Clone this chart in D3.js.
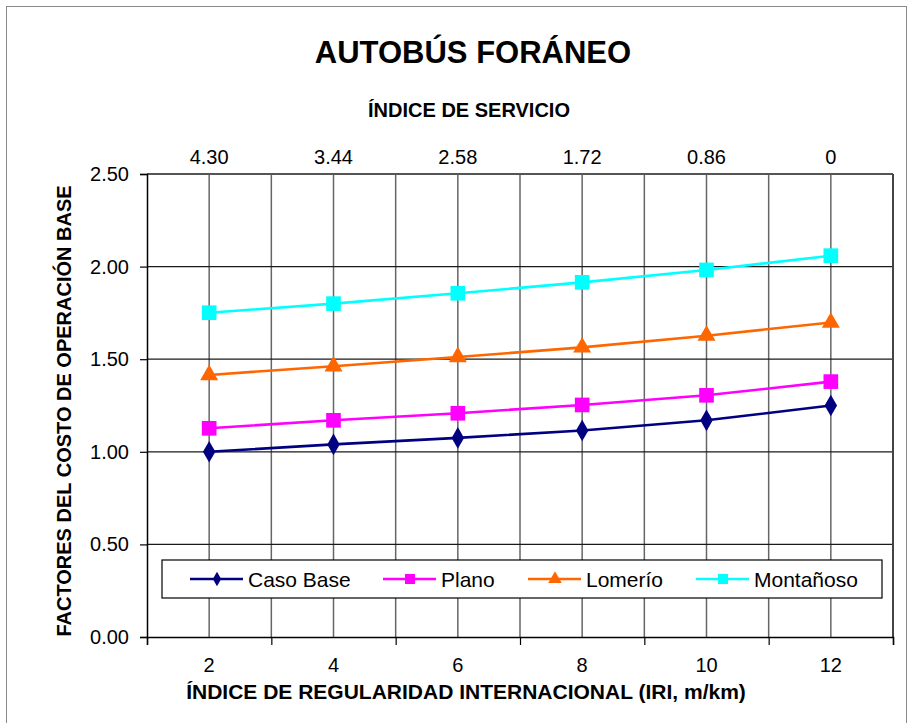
<!DOCTYPE html>
<html>
<head>
<meta charset="utf-8">
<script src="https://cdn.jsdelivr.net/npm/d3@7"></script>
<style>
  body { margin: 0; background: #fff; }
  svg { font-family: Arial, "Liberation Sans", sans-serif; }
</style>
</head>
<body>
<div class="vis-chart"></div>
<script>
// IRI values (bottom axis) and the matching service index (top axis)
const iri = [2, 4, 6, 8, 10, 12];
const serviceIndex = ['4.30', '3.44', '2.58', '1.72', '0.86', '0'];
const yTicks = [0, 0.5, 1.0, 1.5, 2.0, 2.5];

const casoBase = [1.00, 1.04, 1.075, 1.115, 1.17, 1.25];
const plano = [1.127, 1.17, 1.208, 1.253, 1.305, 1.379];
const lomerio = [1.415, 1.462, 1.512, 1.564, 1.627, 1.698];
const montanoso = [1.751, 1.80, 1.856, 1.915, 1.982, 2.059];

const seriesNames = ['Caso Base', 'Plano', 'Lomerío', 'Montañoso'];
const seriesColors = ['#000080', '#ff00ff', '#ff6600', '#00ffff'];
const seriesShapes = ['diamond', 'square', 'triangle', 'square'];

const draw = () => {
  const W = 909, H = 723;
  const margin = { top: 174, right: 16, bottom: 86, left: 147 };
  const width = W - margin.left - margin.right;
  const height = H - margin.top - margin.bottom;

  const svg = d3.select('.vis-chart').append('svg')
    .attr('width', W).attr('height', H);

  // outer chart border
  svg.append('rect')
    .attr('x', 6.5).attr('y', 6.5)
    .attr('width', 900).attr('height', 740)
    .attr('fill', 'none').attr('stroke', '#8a8a8a').attr('stroke-width', 1);

  const g = svg.append('g')
    .attr('transform', 'translate(' + margin.left + ',' + margin.top + ')');

  const x = d3.scaleLinear().domain([1, 13]).range([0, width]);
  const y = d3.scaleLinear().domain([0, 2.5]).range([height, 0]);

  // vertical gridlines at every unit
  g.selectAll('.vgrid')
    .data(d3.range(2, 13))
    .enter().append('line')
    .attr('class', 'vgrid')
    .attr('x1', d => x(d)).attr('x2', d => x(d))
    .attr('y1', 0).attr('y2', height)
    .attr('stroke', '#666').attr('stroke-width', 1.5);

  // horizontal gridlines
  g.selectAll('.hgrid')
    .data(yTicks.filter(d => d > 0 && d < 2.5))
    .enter().append('line')
    .attr('class', 'hgrid')
    .attr('x1', 0).attr('x2', width)
    .attr('y1', d => y(d)).attr('y2', d => y(d))
    .attr('stroke', '#1a1a1a').attr('stroke-width', 1.2);

  // top frame line and right frame line
  g.append('line')
    .attr('x1', 0).attr('x2', width).attr('y1', 0).attr('y2', 0)
    .attr('stroke', '#555').attr('stroke-width', 2.2);
  g.append('line')
    .attr('x1', width).attr('x2', width).attr('y1', 0).attr('y2', height)
    .attr('stroke', '#444').attr('stroke-width', 2);

  // left axis
  const yAxis = d3.axisLeft(y).tickValues(yTicks).tickSize(7).tickPadding(11)
    .tickFormat(d3.format('.2f'));
  const yG = g.append('g').call(yAxis);
  yG.select('.domain').attr('stroke', '#000').attr('stroke-width', 1.5);
  yG.selectAll('.tick line').attr('stroke', '#000').attr('stroke-width', 1.2);
  yG.selectAll('text').style('font-size', '20px').attr('fill', '#000');

  // bottom axis: ticks between categories, labels on the even values
  const xAxis = d3.axisBottom(x).tickValues(d3.range(1, 14, 2)).tickSize(8)
    .tickFormat('');
  const xG = g.append('g').attr('transform', 'translate(0,' + height + ')').call(xAxis);
  xG.select('.domain').attr('stroke', '#000').attr('stroke-width', 1.5);
  xG.selectAll('.tick line').attr('stroke', '#000').attr('stroke-width', 1.2);

  g.selectAll('.xlabel')
    .data(iri)
    .enter().append('text')
    .attr('class', 'xlabel')
    .attr('x', d => x(d))
    .attr('y', height + 35)
    .attr('text-anchor', 'middle')
    .style('font-size', '20px')
    .text(d => d);

  // top axis labels (service index)
  g.selectAll('.toplabel')
    .data(iri)
    .enter().append('text')
    .attr('class', 'toplabel')
    .attr('x', d => x(d))
    .attr('y', -10)
    .attr('text-anchor', 'middle')
    .style('font-size', '20px')
    .text((d, i) => serviceIndex[i]);

  // series
  const allSeries = [casoBase, plano, lomerio, montanoso];
  const line = d3.line().x((d, i) => x(iri[i])).y(d => y(d));

  const fillSymbol = {
    diamond: d3.symbol().type(d3.symbolDiamond),
    square: d3.symbol().type(d3.symbolSquare),
    triangle: d3.symbol().type(d3.symbolTriangle)
  };

  allSeries.forEach((vals, s) => {
    g.append('path')
      .datum(vals)
      .attr('d', line)
      .attr('fill', 'none')
      .attr('stroke', seriesColors[s])
      .attr('stroke-width', 2.6);
  });

  const markerSize = { diamond: 135, square: 215, triangle: 140 };
  allSeries.forEach((vals, s) => {
    const shape = seriesShapes[s];
    g.selectAll('.m' + s)
      .data(vals)
      .enter().append('path')
      .attr('class', 'm' + s)
      .attr('transform', (d, i) => 'translate(' + x(iri[i]) + ',' + y(d) + ')')
      .attr('d', fillSymbol[shape].size(markerSize[shape]))
      .attr('fill', seriesColors[s]);
  });

  // legend
  const legend = svg.append('g').attr('transform', 'translate(162,560)');
  legend.append('rect')
    .attr('x', 0).attr('y', 0).attr('width', 720).attr('height', 38)
    .attr('fill', '#fff').attr('stroke', '#000').attr('stroke-width', 1.2);

  const legendX = [28, 221, 366, 534];
  const legendSize = { diamond: 60, square: 100, triangle: 80 };
  const legendG = legend.selectAll('.legend')
    .data(seriesNames)
    .enter().append('g')
    .attr('class', 'legend')
    .attr('transform', (d, i) => 'translate(' + legendX[i] + ',19)');
  legendG.append('line')
    .attr('x1', 0).attr('x2', 53).attr('y1', 0).attr('y2', 0)
    .attr('stroke', (d, i) => seriesColors[i]).attr('stroke-width', 2.6);
  legendG.append('path')
    .attr('transform', 'translate(27,0)')
    .attr('d', (d, i) => fillSymbol[seriesShapes[i]].size(legendSize[seriesShapes[i]])())
    .attr('fill', (d, i) => seriesColors[i]);
  legendG.append('text')
    .attr('x', 58).attr('y', 8)
    .style('font-size', '21px')
    .text(d => d);

  // titles
  svg.append('text')
    .attr('x', 473).attr('y', 63)
    .attr('text-anchor', 'middle')
    .style('font-size', '31px').style('font-weight', 'bold')
    .text('AUTOBÚS FORÁNEO');
  svg.append('text')
    .attr('x', 469).attr('y', 117)
    .attr('text-anchor', 'middle')
    .style('font-size', '20px').style('font-weight', 'bold')
    .text('ÍNDICE DE SERVICIO');
  svg.append('text')
    .attr('x', 466).attr('y', 699)
    .attr('text-anchor', 'middle')
    .style('font-size', '21px').style('font-weight', 'bold')
    .text('ÍNDICE DE REGULARIDAD INTERNACIONAL (IRI, m/km)');
  svg.append('text')
    .attr('transform', 'translate(71,411) rotate(-90)')
    .attr('text-anchor', 'middle')
    .style('font-size', '20px').style('font-weight', 'bold')
    .text('FACTORES DEL COSTO DE OPERACIÓN BASE');
};

draw();
</script>
</body>
</html>
